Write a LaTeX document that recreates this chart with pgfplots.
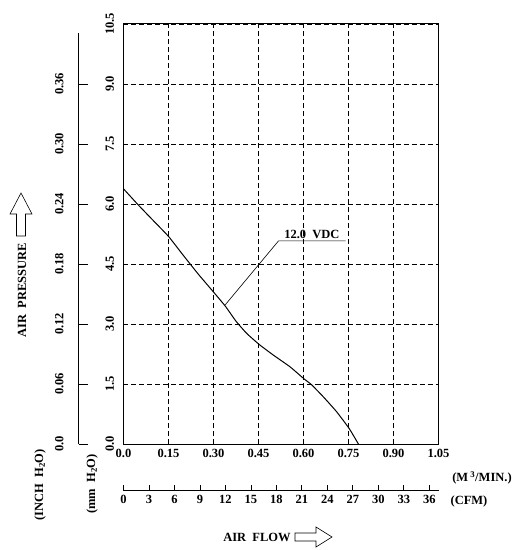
\documentclass[border=0pt]{standalone}
\usepackage{fontspec}
\setmainfont{Liberation Serif}
\usepackage{pgfplots}
\pgfplotsset{compat=1.18}
\begin{document}
\begin{tikzpicture}[x=1pt,y=1pt,font=\bfseries\fontsize{12.5}{14}\selectfont]
\useasboundingbox (-123.5,-106) rectangle (396.5,444);
% main axis
\begin{axis}[at={(0pt,0pt)}, anchor=south west, scale only axis,
  width=315pt, height=420pt,
  xmin=0, xmax=1.05, ymin=0, ymax=10.5,
  xtick={0,0.15,0.3,0.45,0.6,0.75,0.9,1.05},
  xticklabels={0.0,0.15,0.30,0.45,0.60,0.75,0.90,1.05},
  ytick={0,1.5,3,4.5,6,7.5,9,10.5},
  yticklabels={0.0,1.5,3.0,4.5,6.0,7.5,9.0,10.5},
  major tick length=0pt,
  grid=major,
  major grid style={black, line width=0.7pt, dash pattern=on 5pt off 3pt},
  axis line style={line width=1pt},
  yticklabel style={rotate=90, anchor=south},
  yticklabel shift=6pt,
  xticklabel shift=2pt,
  clip=false]
\addplot[black, line width=1pt, smooth, tension=0.3] coordinates {
 (0,6.38) (0.05,5.97) (0.1,5.58) (0.15,5.19) (0.2,4.71) (0.25,4.24)
 (0.3,3.8) (0.34,3.44) (0.375,3.07) (0.41,2.77)
 (0.452,2.49) (0.5,2.22) (0.555,1.93) (0.6,1.64) (0.627,1.48)
 (0.666,1.18) (0.71,0.81) (0.752,0.39) (0.783,0)};
\draw[black, line width=0.6pt] (axis cs:0.338,3.47) -- (axis cs:0.517,5.08) -- (axis cs:0.74,5.08);
\node[anchor=south, inner sep=1.5pt] at (axis cs:0.628,5.08) {12.0\ \ VDC};
\end{axis}
% inch H2O axis
\begin{axis}[at={(-44.5pt,0pt)}, anchor=south west, scale only axis,
  width=10pt, height=411pt,
  xmin=0, xmax=1, ymin=0, ymax=0.411,
  axis y line*=left, axis x line=none,
  ytick={0,0.06,0.12,0.18,0.24,0.30,0.36},
  yticklabels={0.0,0.06,0.12,0.18,0.24,0.30,0.36},
  tick align=inside, major tick length=9pt,
  every tick/.style={black, line width=0.8pt},
  axis line style={line width=1pt, -},
  yticklabel style={rotate=90, anchor=south},
  yticklabel shift=12pt]
\end{axis}
% CFM axis
\begin{axis}[at={(0pt,-46pt)}, anchor=south west, scale only axis,
  width=315pt, height=10pt,
  xmin=0, xmax=37.08, ymin=0, ymax=1,
  axis x line*=bottom, axis y line=none,
  xtick={0,3,6,9,12,15,18,21,24,27,30,33,36},
  xticklabels={0,3,6,9,12,15,18,21,24,27,30,33,36},
  tick align=inside, major tick length=5pt,
  every tick/.style={black, line width=0.8pt},
  axis line style={line width=1pt, -},
  xticklabel shift=2pt]
\end{axis}
% labels
\node at (358.5,-34) {(M\,\textsuperscript{3}/MIN.)};
\node at (345.5,-57) {(CFM)};
\node at (133.5,-93) {AIR\ \ FLOW};
\draw[line width=0.6pt] (171.5,-89) -- (192.5,-89) -- (192.5,-83) -- (208.5,-93) -- (192.5,-103) -- (192.5,-97) -- (171.5,-97) -- cycle;
\node[rotate=90] at (-101.5,154) {AIR\ \ PRESSURE};
\draw[line width=0.6pt] (-107,208) -- (-107,230) -- (-113.5,230) -- (-102.5,251) -- (-91.5,230) -- (-98,230) -- (-98,208) -- cycle;
\node[rotate=90] at (-83.5,-41) {(INCH\ \ H\textsubscript{2}O)};
\node[rotate=90] at (-31.5,-40) {(mm\ \ H\textsubscript{2}O)};
\end{tikzpicture}
\end{document}
